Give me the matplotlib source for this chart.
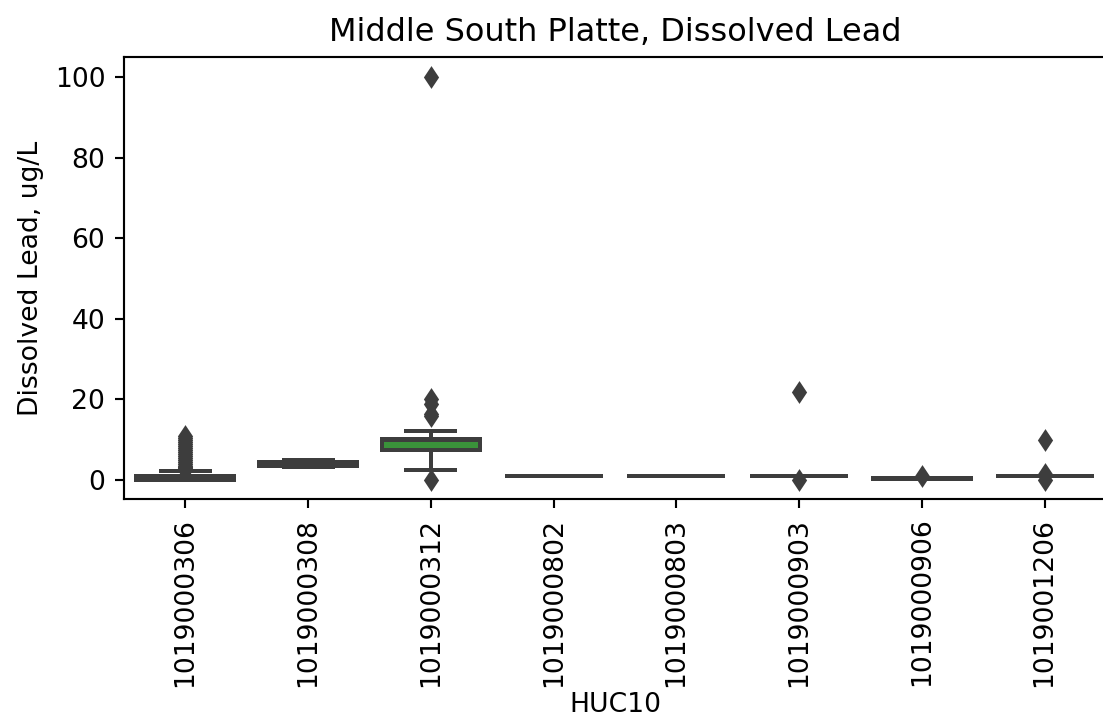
import colorsys
import matplotlib
matplotlib.use("Agg")
import matplotlib.pyplot as plt
import matplotlib.colors as mcolors

# values (ug/L)
huc10 = ["1019000306", "1019000308", "1019000312", "1019000802",
         "1019000803", "1019000903", "1019000906", "1019001206"]
q1 = [0.0, 3.5, 7.4, 1.0, 1.0, 1.0, 0.3, 1.0]
med = [0.5, 4.0, 9.9, 1.0, 1.0, 1.0, 0.5, 1.0]
q3 = [1.0, 4.4, 10.2, 1.0, 1.0, 1.0, 0.5, 1.0]
whislo = [0.0, 3.3, 2.4, 1.0, 1.0, 1.0, 0.3, 1.0]
whishi = [2.2, 5.0, 12.2, 1.0, 1.0, 1.0, 0.5, 1.0]
fliers = [
    [2.5, 2.8, 3.0, 3.3, 3.6, 4.0, 4.5, 5.0, 5.5, 6.0, 6.5, 7.0,
     7.5, 8.0, 8.5, 9.0, 9.5, 10.0, 10.5, 11.0],
    [],
    [0.0, 16.0, 16.5, 19.0, 20.2, 100.0],
    [],
    [],
    [0.0, 21.9],
    [1.0],
    [0.0, 1.5, 10.0],
]


def desaturate(c, prop=0.75):
    h, l, s = colorsys.rgb_to_hls(*mcolors.to_rgb(c))
    return colorsys.hls_to_rgb(h, l, s * prop)


palette = [desaturate(c) for c in plt.rcParams["axes.prop_cycle"].by_key()["color"][:len(huc10)]]
lum = min(colorsys.rgb_to_hls(*c)[1] for c in palette) * .6
gray = (lum, lum, lum)

stats = []
for i, name in enumerate(huc10):
    stats.append(dict(label=name, q1=q1[i], med=med[i], q3=q3[i],
                      whislo=whislo[i], whishi=whishi[i], fliers=fliers[i]))

dpi = 192
fig = plt.figure(figsize=(1103 / dpi, 725 / dpi), dpi=dpi)
ax = fig.add_axes([124 / 1103, 1 - 499 / 725, 982 / 1103, 442 / 725])

bp = ax.bxp(stats, positions=range(len(huc10)), widths=0.8, patch_artist=True,
            boxprops=dict(edgecolor=gray, linewidth=1.5),
            whiskerprops=dict(color=gray, linewidth=1.5),
            capprops=dict(color=gray, linewidth=1.5),
            medianprops=dict(color=gray, linewidth=1.5),
            flierprops=dict(marker="d", markerfacecolor=gray, markeredgecolor=gray,
                            markersize=5, linestyle="none"))
for box, col in zip(bp["boxes"], palette):
    box.set_facecolor(col)

ax.set_xlim(-0.5, len(huc10) - 0.5)
ax.set_ylim(-4.7, 105.0)
ax.set_xticks(range(len(huc10)))
ax.set_xticklabels(huc10, rotation=90)
ax.set_xlabel("HUC10", labelpad=2)
ax.set_ylabel("Dissolved Lead, ug/L")
ax.set_title("Middle South Platte, Dissolved Lead")

fig.savefig("out.png", dpi=dpi)
